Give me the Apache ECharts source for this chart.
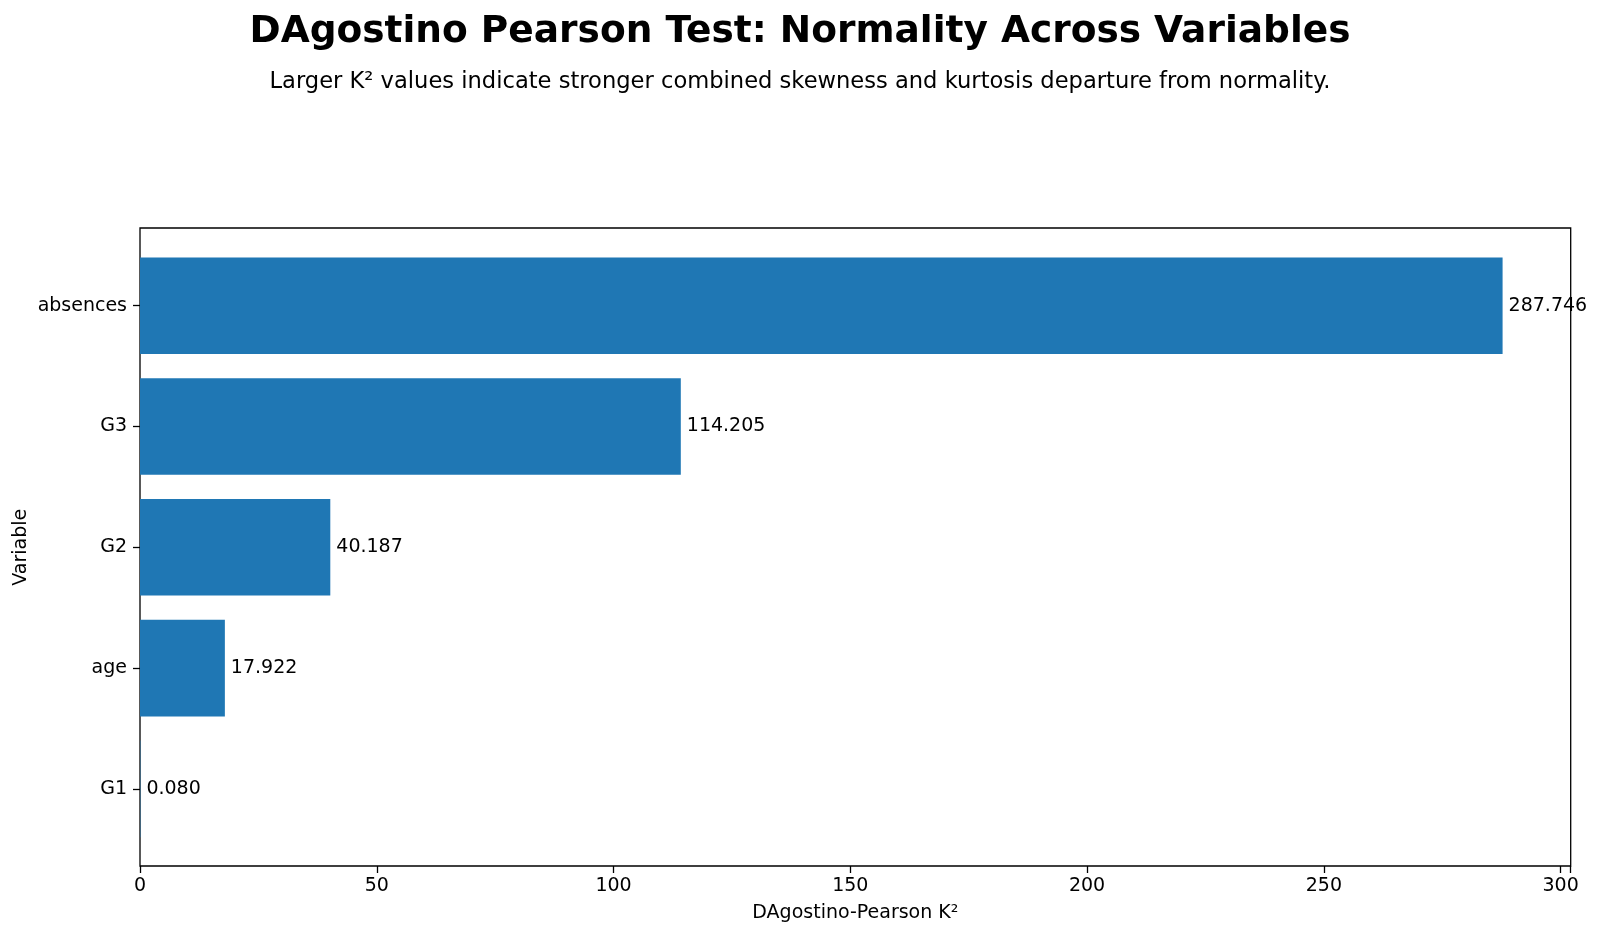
<!DOCTYPE html>
<html>
<head>
<meta charset="utf-8">
<script src="https://cdn.jsdelivr.net/npm/echarts@6.0.0/dist/echarts.min.js"></script>
<style>
  html, body { margin: 0; padding: 0; background: #fff; }
  #chart { width: 1600px; height: 936px; }
</style>
</head>
<body>
<div id="chart"></div>
<script>
// data, bottom to top as drawn
const variables = ['G1', 'age', 'G2', 'G3', 'absences']
const k2Values = [0.080, 17.922, 40.187, 114.205, 287.746]
const xTickStep = 50
const xMax = 302.13

const titleText = 'DAgostino Pearson Test: Normality Across Variables'
const subText = 'Larger K\u00b2 values indicate stronger combined skewness and kurtosis departure from normality.'
const xName = 'DAgostino-Pearson K\u00b2'
const yName = 'Variable'

const font = 'DejaVu Sans'
var chart = echarts.init(document.getElementById('chart'), null, { renderer: 'canvas' })

chart.setOption({
  animation: false,
  textStyle: { fontFamily: font, color: '#000' },
  title: [
    {
      text: titleText,
      left: 'center',
      top: 8,
      textStyle: { fontFamily: font, fontSize: 37.5, fontWeight: 'bold', color: '#000' }
    },
    {
      text: subText,
      left: 'center',
      top: 66,
      textStyle: { fontFamily: font, fontSize: 22.6, fontWeight: 'normal', color: '#000' }
    }
  ],
  grid: [
    // frame (full axes box)
    { left: 140, right: 29.3, top: 228, bottom: 70, show: true, borderColor: '#000', borderWidth: 1.3, backgroundColor: 'transparent' },
    // inner band area for categories
    { left: 140, right: 29.3, top: 245.3, bottom: 86.7 }
  ],
  xAxis: [
    {
      gridIndex: 0,
      type: 'value',
      min: 0,
      max: xMax,
      interval: xTickStep,
      splitLine: { show: false },
      axisLine: { show: false },
      axisTick: { show: true, length: 7, lineStyle: { color: '#000', width: 1.3 } },
      axisLabel: {
        margin: 11,
        fontSize: 19,
        color: '#000',
        fontFamily: font,
        formatter: function (v) { return v % xTickStep === 0 ? String(v) : '' }
      },
      name: xName,
      nameLocation: 'middle',
      nameGap: 38,
      nameTextStyle: { fontSize: 19, color: '#000', fontFamily: font }
    },
    { gridIndex: 1, type: 'value', min: 0, max: xMax, show: false }
  ],
  yAxis: [
    { gridIndex: 0, type: 'value', show: false },
    {
      gridIndex: 1,
      type: 'category',
      data: variables,
      axisLine: { show: false },
      axisTick: { show: true, alignWithLabel: true, length: 7, lineStyle: { color: '#000', width: 1.3 } },
      axisLabel: { margin: 13, fontSize: 19, color: '#000', fontFamily: font, padding: [7, 0, 0, 0] },
      splitLine: { show: false },
      name: yName,
      nameLocation: 'middle',
      nameGap: 109,
      nameMoveOverlap: false,
      nameTextStyle: { fontSize: 19, color: '#000', fontFamily: font }
    }
  ],
  series: [
    {
      type: 'bar',
      xAxisIndex: 1,
      yAxisIndex: 1,
      data: k2Values,
      barWidth: '80%',
      itemStyle: { color: '#1f77b4' },
      label: {
        show: true,
        position: 'right',
        distance: 6,
        fontSize: 19,
        color: '#000',
        fontFamily: font,
        padding: [4, 0, 0, 0],
        formatter: function (p) { return p.value.toFixed(3) }
      }
    }
  ]
})
</script>
</body>
</html>
